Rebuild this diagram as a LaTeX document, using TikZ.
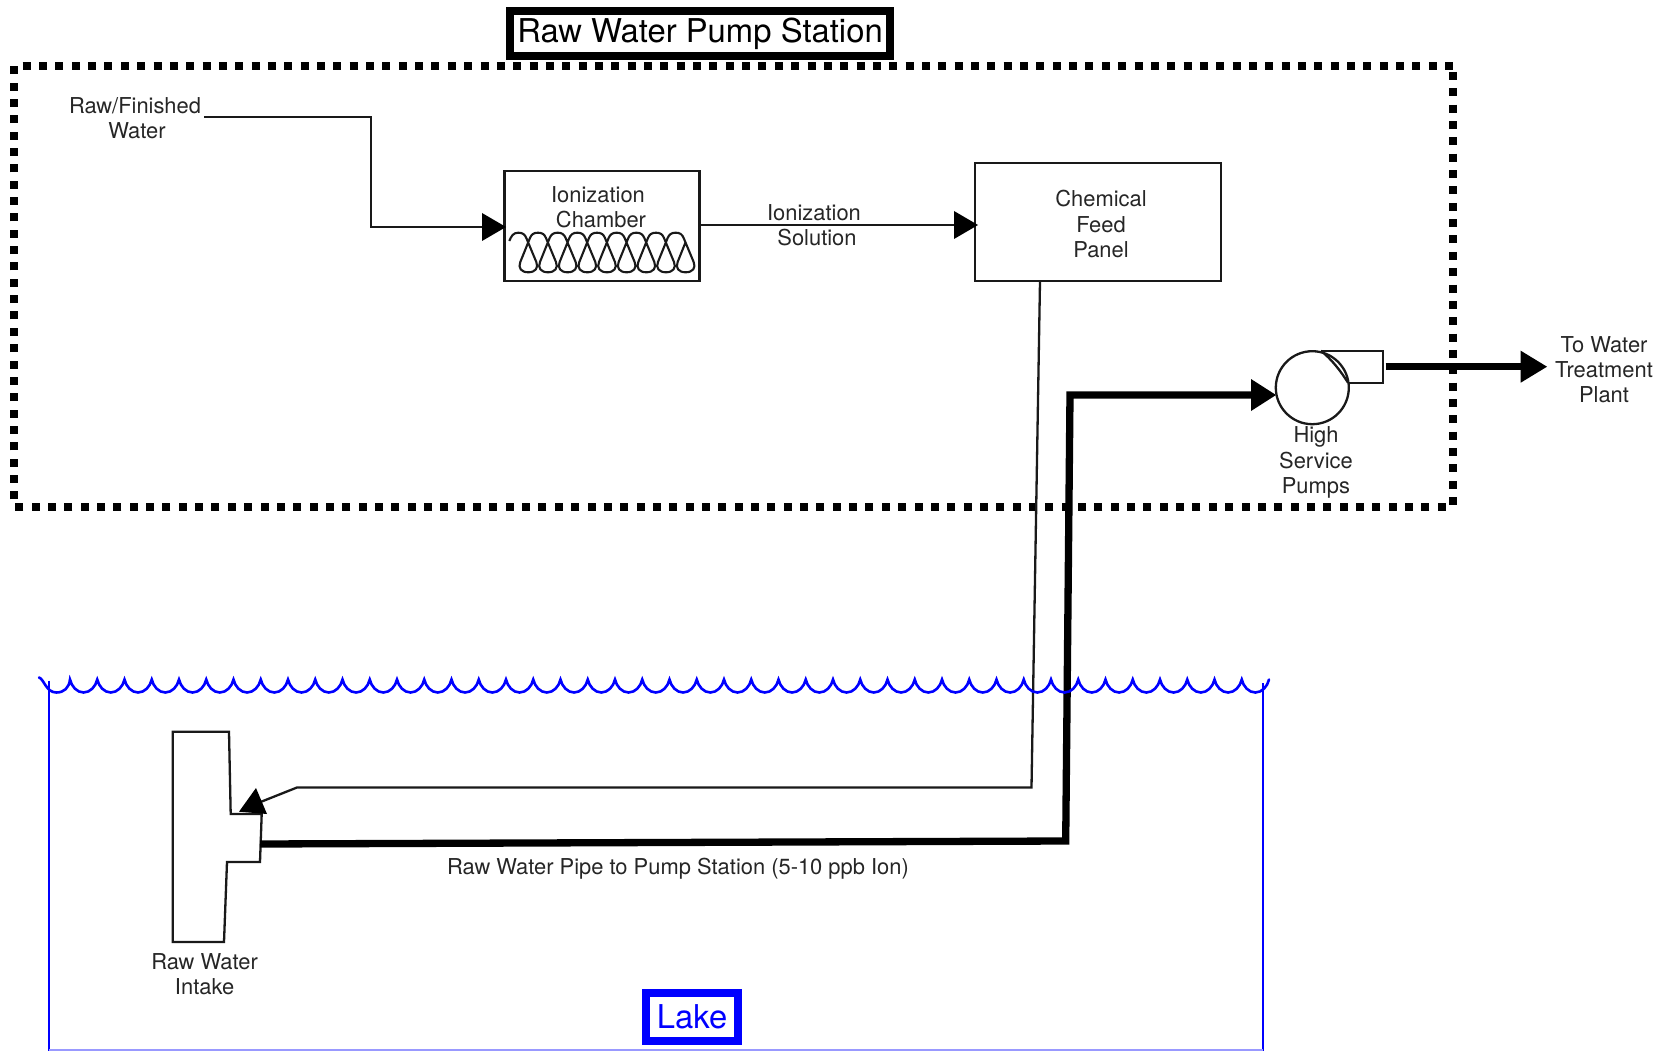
\documentclass[tikz,border=0pt]{standalone}
\usepackage{fontspec}
\setmainfont{TeX Gyre Heros}
\begin{document}
\begin{tikzpicture}[x=1pt,y=-1pt,
  thin line/.style={draw=black!90,line width=2.3pt,line join=miter},
  thick pipe/.style={draw=black,line width=7.3pt,line join=miter},
  dots/.style={draw=black,line width=8pt,dash pattern=on 8pt off 8.35pt},
  lbl/.style={align=center,font=\fontsize{21.9}{25.2}\selectfont,inner sep=0pt,text=black!85},
  bigbox/.style={align=center,font=\fontsize{32.8}{38}\selectfont,inner sep=0pt},
  head/.style={fill=black,draw=none},
  water/.style={draw=blue,line width=2.6pt},
]
\useasboundingbox (0,0) rectangle (1671,1051);
% frame
\coordinate (t0) at (22.7,65.7); \coordinate (t1) at (1453,65.7);
\coordinate (r0) at (1452.7,72); \coordinate (r1) at (1452.7,506);
\coordinate (b0) at (1445.7,506.7); \coordinate (b1) at (15,506.7);
\coordinate (l0) at (14.3,499.3); \coordinate (l1) at (14.3,65);
\draw[dots] (t0) -- (t1);
\draw[dots] (r0) -- (r1);
\draw[dots] (b0) -- (b1);
\draw[dots] (l0) -- (l1);
\node[bigbox,draw=black,line width=8pt,minimum width=380pt,minimum height=44.5pt] (title) at (700,33.7) {\raisebox{-1pt}{Raw Water Pump Station}};
% boxes
\node[thin line,minimum width=195pt,minimum height=110pt,inner sep=0pt] (chamber) at (602,225.7) {};
\node[lbl] (chambertext) at (598,207.5) {Ionization\\\hspace*{6pt}Chamber};
\draw[line width=2.1pt,black!90,line join=round] (509.3,241)
  .. controls (511.3,236) and (513.3,232.7) .. (518.3,232.7)
  \foreach \i in {0,...,8} {
    .. controls ({518.3+19.67*\i+4.5},232.7) and ({518.3+19.67*\i+6.5},234.5) .. ({518.3+19.67*\i+8},238)
    -- ({518.3+19.67*\i+18},262)
    .. controls ({518.3+19.67*\i+20.5},268) and ({518.3+19.67*\i+17},272.3) .. ({518.3+19.67*\i+10},272.3)
    .. controls ({518.3+19.67*\i+3},272.3) and ({518.3+19.67*\i-0.5},268) .. ({518.3+19.67*\i+2},262)
    \ifnum\i<8 -- ({518.3+19.67*\i+11.67},238)
    .. controls ({518.3+19.67*\i+13.2},234.5) and ({518.3+19.67*\i+15.2},232.7) .. ({518.3+19.67*\i+19.67},232.7)
    \else -- ({518.3+19.67*\i+9.83},242.4) \fi
  };
\node[thin line,minimum width=246pt,minimum height=118pt] (panel) at (1098,222) {};
\node[lbl] (paneltext) at (1101,224) {Chemical\\Feed\\Panel};
% raw finished
\node[lbl] (rawfin) at (135,118.5) {Raw/Finished\\\hspace*{4pt}Water};
\coordinate (rf) at (204,117); \coordinate (rf1) at (371,117); \coordinate (rf2) at (371,227);
\coordinate (chb) at (484,227); \coordinate (chin) at (506,227);
\draw[thin line] (rf) -- (rf1) -- (rf2) -- (chb);
\fill[head] (chin) -- ++(-24,-14) -- ++(0,28) -- cycle;
% solution
\coordinate (pin) at (978,225);\coordinate (pb) at (956,225);
\draw[thin line] (chamber.east |- pb) -- (pb);
\fill[head] (pin) -- ++(-24,-14) -- ++(0,28) -- cycle;
\node[lbl] (soltext) at (814,225) {Ionization\\\hspace*{6pt}Solution};
% T intake
\draw[thin line] (172.7,731.7) -- (229,731.7) -- (230.7,814) -- (261.7,814) -- (260,862) -- (227,862) -- (224,942) -- (172.7,942) -- cycle;
\node[lbl] (intake) at (204.6,974.5) {Raw Water\\Intake};
% chemical line
\coordinate (c0) at (1040,281); \coordinate (c1) at (1031.5,787.5); \coordinate (c2) at (297,787.5); \coordinate (c3) at (258,803);
\draw[thin line] (c0) -- (c1) -- (c2) -- (c3);
\fill[head] (256,788) -- (267,814) -- (239,811.7) -- cycle;
% pipe
\coordinate (p0) at (260,844); \coordinate (p1) at (1065.7,841); \coordinate (p2) at (1070,395); \coordinate (p3) at (1252,395);
\draw[thick pipe] (p0) -- (p1) -- (p2) -- (p3);
\fill[head] (1276,395) -- (1251,379) -- (1251,411) -- cycle;
\node[lbl] (pipelabel) at (678,868.5) {Raw Water Pipe to Pump Station (5-10 ppb Ion)};
% pump
\node[draw=black!90,line width=2.3pt,circle,minimum size=73pt,inner sep=0pt] (pump) at (1312.3,387.7) {};
\draw[thin line] (1321,350.7) -- (1382.7,350.7) -- (1382.7,382.7) -- (1348,382.7);
\draw[thin line] (1321,350.7) .. controls (1332,360) and (1340,370) .. (1348,382.7);
\node[lbl] (pumptext) at (1316,462.5) {High\\Service\\Pumps};
\coordinate (o0) at (1385.7,366.7); \coordinate (o1) at (1522,366.7);
\draw[thick pipe] (o0) -- (o1);
\fill[head] (1547,366.7) -- (1520.7,350.7) -- (1520.7,382.7) -- cycle;
\node[lbl] (plant) at (1604,369.5) {To Water\\Treatment\\Plant};
% lake
\draw[water,line width=2.2pt] (49,680.7) -- (49,1051);
\draw[water,line width=2.2pt] (1263.3,683) -- (1263.3,1051);
\draw[draw=blue!40,line width=1.5pt] (49,1050.2) -- (1263.3,1050.2);
\draw[water,line cap=round] (39,677.5) .. controls (44,679) and (46,692.5) .. (56.4,692.5) .. controls (64,692.5) and (69,688) .. (70,679.5)
  \foreach \i in {0,...,43} { .. controls ({70+27.25*\i+1.5},686.5) and ({70+27.25*\i+7},692.5) .. ({70+27.25*\i+13.6},692.5) .. controls ({70+27.25*\i+20.2},692.5) and ({70+27.25*\i+25.7},686.5) .. ({70+27.25*\i+27.25},679.5) };
\node[bigbox,text=blue,draw=blue,line width=8pt,minimum width=92pt,minimum height=48pt] (lake) at (692,1017) {\raisebox{1pt}{Lake}};
\end{tikzpicture}
\end{document}
